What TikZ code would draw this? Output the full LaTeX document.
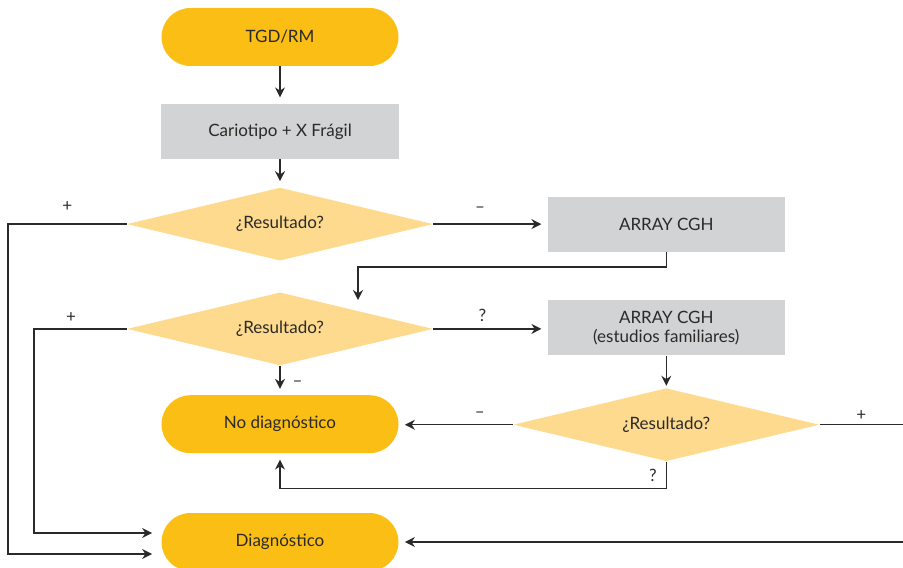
\documentclass[tikz,border=0pt]{standalone}
\usepackage{fontspec}
\setmainfont{Lato}
\usepackage{xcolor}
\definecolor{tgdorange}{HTML}{FBBE15}
\definecolor{tgdsand}{HTML}{FDDA8E}
\definecolor{tgdgray}{HTML}{D1D3D4}
\definecolor{tgdink}{HTML}{2B2A29}
\usepackage{tikz}
\usetikzlibrary{arrows.meta,positioning,shapes.geometric,calc}
\tikzset{
  tgdterm/.style={fill=tgdorange,rounded corners=14.5pt,minimum width=118.5pt,minimum height=29pt,align=center,font=\fontsize{8.5}{9.5}\selectfont,text=tgdink},
  tgdbox/.style={fill=tgdgray,minimum width=118.5pt,minimum height=27.5pt,align=center,font=\fontsize{8.5}{9.5}\selectfont,text=tgdink},
  tgdask/.style={diamond,aspect=4.2,fill=tgdsand,minimum width=153pt,minimum height=36.5pt,inner sep=0pt,font=\fontsize{8.5}{9.5}\selectfont,text=tgdink},
  tgdflow/.style={-{Stealth[length=5pt,width=5pt]},line width=0.65pt,draw=tgdink,shorten >=3pt},
  tgdlabel/.style={font=\fontsize{8.5}{9.5}\selectfont,text=tgdink,inner sep=0pt,text height=6pt,text depth=0pt},
}
\begin{document}
\begin{tikzpicture}[node distance=16pt and 57pt]
\useasboundingbox (-140pt,18.5pt) rectangle (311.5pt,-265pt);

\node[tgdterm] (tgd){TGD/RM};
\node[tgdbox,below=18.5pt of tgd] (cario){Cariotipo + X Frágil};
\node[tgdask,below=14pt of cario] (res1){¿Resultado?};
\node[tgdbox,right=57pt of res1] (cgh1){ARRAY CGH};
\node[tgdask,below=15.5pt of res1] (res2){¿Resultado?};
\node[tgdbox,below=24pt of cgh1] (cgh2){ARRAY CGH\\(estudios familiares)};
\node[tgdterm,below=14.5pt of res2] (nodiag){No diagnóstico};
\node[tgdask,below=16pt of cgh2] (res3){¿Resultado?};
\node[tgdterm,below=29.5pt of nodiag] (diag){Diagnóstico};

\coordinate (edgeL) at (-136pt,0);
\coordinate (edgeM) at (-123pt,0);
\coordinate (edgeR) at (311.5pt,0);
\coordinate (drop) at ($(res2.north)+(39pt,-4pt)$);

\draw[tgdflow](tgd)--(cario);\draw[tgdflow](cario)--(res1);
\draw[tgdflow,shorten >=4.5pt](res1.west)--node[tgdlabel,above=6pt]{+}(res1.west-|edgeL)|-([yshift=-6pt]diag.west);
\draw[tgdflow](res1.east)--node[tgdlabel,above=5.5pt,pos=0.41]{–}(cgh1.west);
\draw[tgdflow,shorten >=0pt](cgh1.south)--++(0,-7.5pt)-|(drop);
\draw[tgdflow,shorten >=4.5pt](res2.west)--node[tgdlabel,above=3pt,pos=0.6]{+}(res2.west-|edgeM)|-([yshift=4.5pt]diag.west);
\draw[tgdflow](res2.east)--node[tgdlabel,above=3.5pt,pos=0.43]{?}(res2.east-|cgh2.west);
\draw[tgdflow](res2.south)--node[tgdlabel,right=6pt]{–}(nodiag.north);
\draw[tgdflow,shorten >=1pt](cgh2.south)--(res3.north);
\draw[tgdflow](res3.west)--node[tgdlabel,above=3.5pt,pos=0.29]{–}(res3.west-|nodiag.east);
\draw[line width=0.65pt,draw=tgdink](res3.east)--node[tgdlabel,above=2pt]{+}(res3.east-|edgeR);
\draw[tgdflow](diag.east-|edgeR)--(diag.east);
\draw[tgdflow](res3.south)--node[tgdlabel,left=4.5pt]{?}++(0,-13.5pt)-|(nodiag.south);
\end{tikzpicture}
\end{document}
